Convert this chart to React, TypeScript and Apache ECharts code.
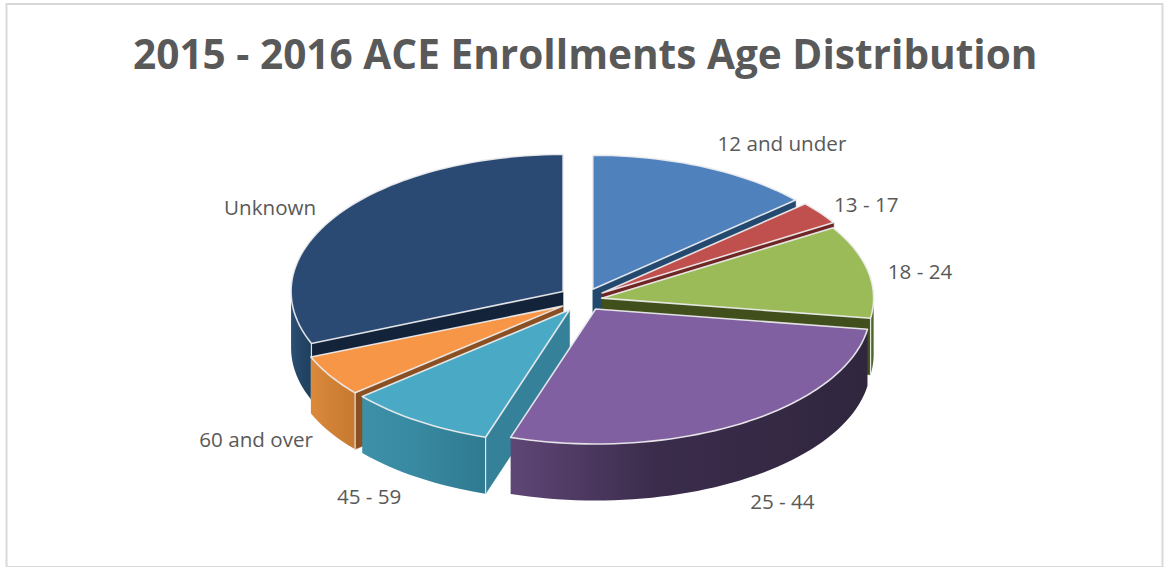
import React, { useEffect, useRef } from "react";
import * as echarts from "echarts";

const TITLE = "2015 - 2016 ACE Enrollments Age Distribution";
const CATEGORIES = ["12 and under", "13 - 17", "18 - 24", "25 - 44", "45 - 59", "60 and over", "Unknown"];
const VALUES = [13.4, 2.8, 11.2, 27.6, 8.8, 5.0, 31.2];

const TOP_COLORS = ["#4f81bd", "#c0504d", "#9bbb59", "#8060a0", "#4aa9c4", "#f79646", "#2a4a73"];
const FACE_COLORS = ["#234a6e", "#6e2523", "#414f1d", "#3a2b4c", "#358199", "#8a5022", "#12233a"];
const WALL_COLORS: string[][] = [
  ["#3a6a9f", "#30588a", "#264a73"],
  ["#96403d", "#86383a", "#70302c"],
  ["#6c8a3a", "#56702e", "#465a24"],
  ["#5f4676", "#3b2c4c", "#30263e"],
  ["#3e8fa8", "#388aa2", "#2f7a90"],
  ["#dc8a3c", "#d28236", "#c67a30"],
  ["#2a5076", "#254768", "#1f3f5e"],
];
// label offset from the middle of each slice's outer arc
const LABEL_NUDGE = [[78, -24], [46, -9], [47, 0], [44, 77], [-49, 75], [-74, 63], [-67, -12]];
// per-slice explosion and radii, standing in for the reference's slight perspective
const SLICE_EXPLODE = [24, 24, 19, 24, 24, 24, 24];
const SLICE_SHIFT_Y = [0, 0, 0, -1, 0, 0, -2];
const SLICE_RX = [272, 272, 272, 275, 272, 272, 272];
const SLICE_RY = [134, 134, 134, 135, 134, 134, 137];

const CX = 583, CY = 300, DEPTH = 56.5, SQUASH = 0.49;
const EDGE = "rgba(238,238,240,0.92)";
const TOTAL = VALUES.reduce((a, b) => a + b, 0);
const RAD = Math.PI / 180;

function sliceAngles(i: number) {
  const before = VALUES.slice(0, i).reduce((a, b) => a + b, 0);
  return [(before / TOTAL) * 360, ((before + VALUES[i]) / TOTAL) * 360];
}

function arcPts(ax: number, ay: number, rx: number, ry: number, a: number, b: number, dy = 0) {
  const n = Math.max(2, Math.ceil((b - a) / 2));
  const pts: number[][] = [];
  for (let k = 0; k <= n; k++) {
    const t = (a + ((b - a) * k) / n) * RAD;
    pts.push([ax + rx * Math.sin(t), ay - ry * Math.cos(t) + dy]);
  }
  return pts;
}

function renderItem(params: any) {
  const i = params.dataIndex;
  const [a, b] = sliceAngles(i);
  const mid = ((a + b) / 2) * RAD;
  const ex = SLICE_EXPLODE[i], rx = SLICE_RX[i], ry = SLICE_RY[i];
  const ax = CX + ex * Math.sin(mid);
  const ay = CY - ex * SQUASH * Math.cos(mid) + SLICE_SHIFT_Y[i];
  const order = Math.round((1 - Math.cos(mid)) * 100);
  const children: any[] = [];
  const pointAt = (t: number) => [ax + rx * Math.sin(t * RAD), ay - ry * Math.cos(t * RAD)];
  const face = (t: number) => {
    const p = pointAt(t);
    children.push({
      type: "polygon", z2: order + 1,
      shape: { points: [[ax, ay], p, [p[0], p[1] + DEPTH], [ax, ay + DEPTH]] },
      style: { fill: FACE_COLORS[i], stroke: FACE_COLORS[i], lineWidth: 0.5 },
    });
  };
  if (-Math.sin(a * RAD) > 0.01) face(a);
  if (Math.sin(b * RAD) > 0.01) face(b);

  const wa = Math.max(a, 90), wb = Math.min(b, 270);
  if (wb > wa) {
    const upper = arcPts(ax, ay, rx, ry, wa, wb);
    const lower = arcPts(ax, ay, rx, ry, wa, wb, DEPTH).reverse();
    const [c0, c1, c2] = WALL_COLORS[i];
    const p0 = pointAt(wa), p1 = pointAt(wb);
    const ltr = p0[0] > p1[0];
    children.push({
      type: "polygon", z2: order + 2,
      shape: { points: upper.concat(lower) },
      style: {
        fill: new echarts.graphic.LinearGradient(0, 0, 1, 0, ltr
          ? [{ offset: 0, color: c0 }, { offset: 0.4, color: c1 }, { offset: 1, color: c2 }]
          : [{ offset: 0, color: c2 }, { offset: 0.6, color: c1 }, { offset: 1, color: c0 }]),
      },
    });
  }
  const corner = (t: number) => {
    const p = pointAt(t);
    children.push({
      type: "line", z2: order + 3,
      shape: { x1: p[0], y1: p[1], x2: p[0], y2: p[1] + DEPTH },
      style: { stroke: EDGE, lineWidth: 1.2 },
    });
  };
  if (a >= 90 && a <= 270 && -Math.sin(a * RAD) > 0.01) corner(a);
  if (b >= 90 && b <= 270 && Math.sin(b * RAD) > 0.01) corner(b);

  children.push({
    type: "polygon", z2: order + 4,
    shape: { points: [[ax, ay] as number[]].concat(arcPts(ax, ay, rx, ry, a, b)) },
    style: { fill: TOP_COLORS[i], stroke: EDGE, lineWidth: 1.6, lineJoin: "round" },
  });

  const lx = CX + (272 + 24) * Math.sin(mid) + LABEL_NUDGE[i][0];
  const ly = CY - (134 + 12) * Math.cos(mid) + LABEL_NUDGE[i][1];
  children.push({
    type: "text", z2: 1000,
    style: {
      x: lx, y: ly, text: CATEGORIES[i], align: "center", verticalAlign: "middle",
      fill: "#595959", font: '20.6px "Open Sans", sans-serif',
    },
  });
  return { type: "group", children };
}

export default function App() {
  const ref = useRef<HTMLDivElement>(null);
  useEffect(() => {
    const chart = echarts.init(ref.current!, undefined, { renderer: "svg" });
    chart.setOption({
      animation: false,
      backgroundColor: "#ffffff",
      title: {
        text: TITLE, left: 128, top: 28,
        textStyle: { color: "#595959", fontFamily: '"Open Sans", sans-serif', fontWeight: "bold", fontSize: 40.6 },
      },
      graphic: [{
        type: "rect", silent: true, z: -1,
        shape: { x: 6.5, y: 4, width: 1156, height: 563 },
        style: { fill: "none", stroke: "#d9d9d9", lineWidth: 2 },
      }],
      series: [{
        type: "custom", coordinateSystem: "none", renderItem, silent: true,
        clip: false, data: VALUES,
      }],
    });
    return () => chart.dispose();
  }, []);
  return <div ref={ref} style={{ position: "absolute", left: 0, top: 0, width: 1164, height: 567 }} />;
}
